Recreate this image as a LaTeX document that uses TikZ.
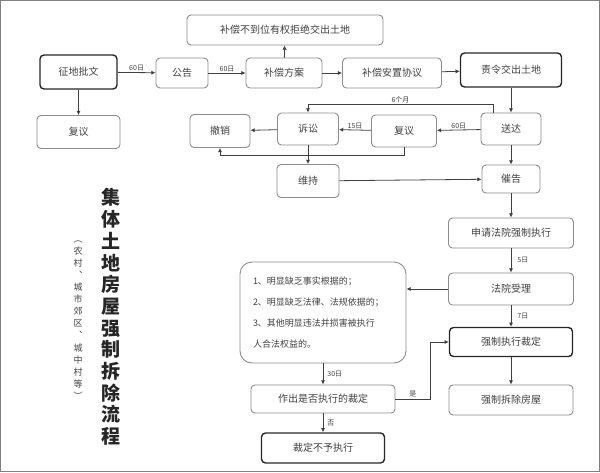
\documentclass[tikz,border=0pt]{standalone}
\usepackage{fontspec}
\setmainfont{Noto Sans CJK SC}
\usetikzlibrary{arrows.meta, positioning}
\tikzset{%
>={Latex[width=1.5mm,length=1.5mm]},
  % Specifications for style of nodes:
            base/.style = {rectangle, rounded corners=4pt, draw=black!45,
                            line width=0.9pt, text=black!75, inner sep=2pt,
                            font=\fontsize{10}{12}\selectfont},
            key/.style = {base, draw=black!85, line width=1.4pt},
            tag/.style = {draw=none, text=black!75, inner sep=1pt,
                            font=\fontsize{7}{8}\selectfont},
            link/.style = {->, draw=black!75, line width=0.8pt}
}
\begin{document}
\begin{tikzpicture}[x=1pt, y=-1pt, every node/.style={base}]
                \useasboundingbox (0,0) rectangle (600,472);
                \draw[black!50, line width=1pt] (0.5,0.5) rectangle (599.5,471.5);

                % upper row
                \node[key, minimum width=77pt, minimum height=34pt] (pw) at (78.5,72) {征地批文};
                \node[minimum width=83pt, minimum height=33pt] (fy0) at (78.5,132) {复议};
                \node[minimum width=52pt, minimum height=30pt] (gg) at (182,73) {公告};
                \node[minimum width=76pt, minimum height=30pt] (fa) at (284,73) {补偿方案};
                \node[minimum width=196pt, minimum height=30pt] (bc) at (285,30) {补偿不到位有权拒绝交出土地};
                \node[minimum width=99pt, minimum height=30pt] (xy) at (392,73) {补偿安置协议};
                \node[key, minimum width=101pt, minimum height=34pt] (zl) at (511,70) {责令交出土地};
                \draw[link] (pw) -- (gg) node [tag, midway, above] {60日};
                \draw[link] (gg) -- (fa) node [tag, midway, above] {60日};
                \draw[link] (fa) -- (xy);
                \draw[link] (xy) -- (zl);
                \draw[link] (fa) -- (bc);
                \draw[link] (pw) -- (fy0);

                % review and lawsuit
                \node[minimum width=60pt, minimum height=32pt] (sd) at (511,129) {送达};
                \node[minimum width=65pt, minimum height=32pt] (fy) at (404,131) {复议};
                \node[minimum width=61pt, minimum height=32pt] (ss) at (308,129) {诉讼};
                \node[minimum width=60pt, minimum height=33pt] (cx) at (220,131) {撤销};
                \node[minimum width=62pt, minimum height=33pt] (wc) at (308,181) {维持};
                \node[minimum width=58pt, minimum height=28pt] (cg) at (511,179) {催告};
                \draw[link] (zl) -- (sd);
                \draw[link] (sd) -- (fy) node [tag, midway, above] {60日};
                \draw[link] (fy) -- (ss) node [tag, midway, above] {15日};
                \draw[link] (ss) -- (cx);
                \draw[link] ([xshift=-18pt]sd.north) -- ++(0,-8) -| (ss.north)
                    node [tag, pos=0.25, above] {6个月};
                \draw[link] (fy.south) -- ++(0,8) -| (cx.south);
                \draw[link] (ss) -- (wc);
                \draw[link] (wc) -- (cg);
                \draw[link] (sd) -- (cg);

                % court
                \node[minimum width=125pt, minimum height=30pt] (sq) at (511,233) {申请法院强制执行};
                \node[minimum width=125pt, minimum height=32pt] (sl) at (511,289) {法院受理};
                \node[key, minimum width=123pt, minimum height=29pt] (cd) at (511,342) {强制执行裁定};
                \node[minimum width=124pt, minimum height=30pt] (cc) at (511,400) {强制拆除房屋};
                \node[rounded corners=12pt, minimum width=166pt, minimum height=101pt,
                      text width=140pt, align=left, font=\fontsize{9}{21}\selectfont] (tj) at (323,312.5)
                      {1、明显缺乏事实根据的；\\2、明显缺乏法律、法规依据的；\\3、其他明显违法并损害被执行\\人合法权益的。};
                \node[minimum width=144pt, minimum height=28pt] (zc) at (323,399) {作出是否执行的裁定};
                \node[key, minimum width=123pt, minimum height=30pt] (by) at (323,448) {裁定不予执行};
                \draw[link] (cg) -- (sq);
                \draw[link] (sq) -- (sl) node [tag, midway, right, xshift=5pt] {5日};
                \draw[link] (sl.west) -- (sl.west -| tj.east);
                \draw[link] (sl) -- (cd) node [tag, midway, right, xshift=5pt] {7日};
                \draw[link] (cd) -- (cc);
                \draw[link] (tj) -- (zc) node [tag, midway, right, xshift=3pt] {30日};
                \draw[link] (zc) -- (by) node [tag, midway, right, xshift=3pt] {否};
                \draw[link] (zc.east) -- node [tag, above] {是} ++(35,0) |- (cd.west);

                % title
                \node[tag, text=black!85, align=center, text width=22pt,
                      font=\bfseries\fontsize{19}{21.7}\selectfont] (tt) at (111,317)
                      {集\\体\\土\\地\\房\\屋\\强\\制\\拆\\除\\流\\程};
                \node[tag, align=center, text width=12pt,
                      font=\fontsize{9}{12.1}\selectfont] (st) at (78,320)
                      {︵\\农\\村\\︑\\城\\市\\郊\\区\\︑\\城\\中\\村\\等\\︶};
\end{tikzpicture}
\end{document}
